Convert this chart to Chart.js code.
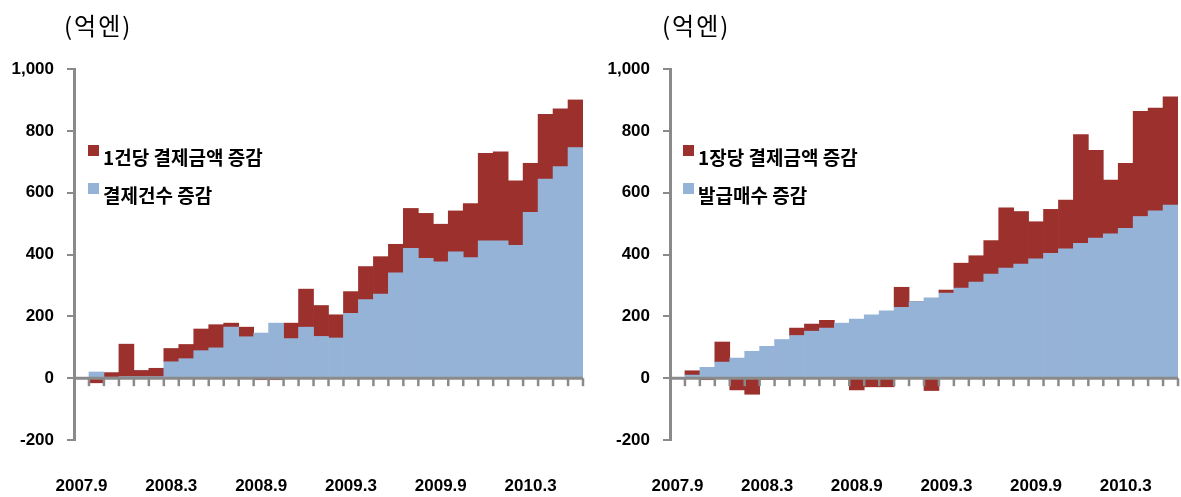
<!DOCTYPE html>
<html>
<head>
<meta charset="utf-8">
<script src="https://cdn.jsdelivr.net/npm/chart.js@4"></script>
<style>
  html, body { margin: 0; padding: 0; background: #fff; }
  body { width: 1181px; height: 497px; position: relative; overflow: hidden; }
  .panel { position: absolute; top: 0; height: 497px; }
  .unit { position: absolute; top: 7px; font-family: "Noto Sans CJK KR", sans-serif; font-size: 24px; letter-spacing: 2px; color: #000; z-index: 2; }
</style>
</head>
<body>
<div class="panel" style="left:0;width:590px;"><canvas id="leftChart" width="590" height="497"></canvas></div>
<div class="panel" style="left:596px;width:585px;"><canvas id="rightChart" width="585" height="497"></canvas></div>
<div class="unit" style="left:64px;">(억엔)</div>
<div class="unit" style="left:662px;">(억엔)</div>
<script>
// months, Sep 2007 .. Jun 2010
const categories = [
    '2007.9', '2007.10', '2007.11', '2007.12',
    '2008.1', '2008.2', '2008.3', '2008.4', '2008.5', '2008.6', '2008.7', '2008.8', '2008.9', '2008.10', '2008.11', '2008.12',
    '2009.1', '2009.2', '2009.3', '2009.4', '2009.5', '2009.6', '2009.7', '2009.8', '2009.9', '2009.10', '2009.11', '2009.12',
    '2010.1', '2010.2', '2010.3', '2010.4', '2010.5', '2010.6'
];
const yTicks = [-200, 0, 200, 400, 600, 800, 1000];

// left panel
const leftCountLabel = '결제건수 증감';
const leftCount = [null, 20, 3, 5, 5, 5, 53, 63, 89, 98, 165, 134, 146, 178, 128, 165, 135, 130, 210, 254, 272, 341, 420, 388, 376, 409, 390, 444, 444, 430, 536, 644, 684, 746];
const leftAmountLabel = '1건당 결제금액 증감';
const leftAmount = [null, -15, 15, 105, 20, 27, 43, 46, 70, 75, 13, 31, -5, -5, 50, 123, 100, 75, 70, 107, 121, 92, 129, 145, 122, 132, 175, 283, 288, 208, 159, 209, 187, 154];

// right panel
const rightCardsLabel = '발급매수 증감';
const rightCards = [null, 10, 35, 52, 65, 87, 103, 125, 138, 152, 162, 178, 191, 205, 218, 229, 248, 260, 275, 291, 311, 337, 356, 369, 386, 404, 418, 436, 453, 467, 485, 523, 541, 560];
const rightAmountLabel = '1장당 결제금액 증감';
const rightAmount = [null, 14, -5, 65, -38, -52, -4, -3, 24, 23, 25, -2, -38, -28, -28, 65, 0, -40, 10, 81, 85, 108, 195, 170, 120, 142, 158, 352, 284, 174, 210, 340, 333, 350];

const BLUE = '#95b3d7';
const RED = '#9b302c';
const AXIS = '#8a8a8a';
const numFont = { family: 'Liberation Sans, Arial, sans-serif', size: 17, weight: 'bold' };

// zero line with small tick marks below it, drawn over the bars
const zeroAxisPlugin = {
    id: 'zeroAxis',
    afterDatasetsDraw: (chart) => {
        const {ctx, chartArea} = chart;
        const y0 = chart.scales.y.getPixelForValue(0);
        const n = chart.data.labels.length;
        const step = (chartArea.right - chartArea.left) / n;
        ctx.save();
        ctx.strokeStyle = AXIS;
        ctx.lineWidth = 3;
        ctx.beginPath();
        ctx.moveTo(chartArea.left, y0);
        ctx.lineTo(chartArea.right, y0);
        ctx.stroke();
        ctx.lineWidth = 2.5;
        for (let k = 1; k <= n; k++) {
            const x = chartArea.left + step * k;
            ctx.beginPath();
            ctx.moveTo(x, y0);
            ctx.lineTo(x, y0 + 8);
            ctx.stroke();
        }
        ctx.restore();
    }
};

// legend sitting inside the plot, top-left
const innerLegendPlugin = {
    id: 'innerLegend',
    afterDraw: (chart, args, options) => {
        const {ctx, chartArea} = chart;
        const sets = chart.data.datasets.slice().reverse();
        ctx.save();
        ctx.font = 'bold 19px "Noto Sans CJK KR", sans-serif';
        ctx.textBaseline = 'middle';
        ctx.textAlign = 'left';
        sets.forEach((ds, i) => {
            const x = chartArea.left + options.x;
            const y = chartArea.top + options.y + i * options.gap;
            ctx.fillStyle = ds.backgroundColor;
            ctx.fillRect(x, y, 11, 11);
            ctx.fillStyle = '#000';
            ctx.fillText(ds.label, x + 15, y + 13);
        });
        ctx.restore();
    }
};

function makeChart(id, lowLabel, lowData, topLabel, topData, padRight, legendX) {
    const ctx = document.getElementById(id).getContext('2d');
    return new Chart(ctx, {
        type: 'bar',
        data: {
            labels: categories,
            datasets: [
                { label: lowLabel, data: lowData, backgroundColor: BLUE, borderWidth: 0 },
                { label: topLabel, data: topData, backgroundColor: RED, borderWidth: 0 }
            ]
        },
        options: {
            responsive: false,
            animation: false,
            layout: { padding: { left: 2, right: padRight, top: 69, bottom: 0 } },
            datasets: { bar: { categoryPercentage: 1, barPercentage: 1 } },
            scales: {
                x: {
                    stacked: true,
                    grid: { display: false, drawTicks: false },
                    border: { display: false },
                    ticks: {
                        autoSkip: false,
                        maxRotation: 0,
                        padding: 36,
                        color: '#000',
                        font: numFont,
                        callback: (v, i) => (i % 6 === 0 ? categories[i] : '')
                    },
                    afterFit: (s) => {
                        s.height = 57;
                        s.paddingLeft = 0;
                        s.paddingRight = 0;
                    }
                },
                y: {
                    stacked: true,
                    min: yTicks[0],
                    max: yTicks[yTicks.length - 1],
                    afterBuildTicks: (s) => { s.ticks = yTicks.map(v => ({ value: v })); },
                    ticks: {
                        color: '#000',
                        font: numFont,
                        padding: 13,
                        callback: (v) => v.toLocaleString('en-US')
                    },
                    grid: { drawOnChartArea: false, tickLength: 7, color: AXIS, lineWidth: 2 },
                    border: { color: AXIS, width: 3 },
                    afterFit: (s) => { s.width = 72; }
                }
            },
            plugins: {
                legend: { display: false },
                tooltip: { enabled: false },
                innerLegend: { x: legendX, y: 76, gap: 38 }
            }
        },
        plugins: [zeroAxisPlugin, innerLegendPlugin]
    });
}

makeChart('leftChart', leftCountLabel, leftCount, leftAmountLabel, leftAmount, 7, 14);
makeChart('rightChart', rightCardsLabel, rightCards, rightAmountLabel, rightAmount, 3, 13);
</script>
</body>
</html>
